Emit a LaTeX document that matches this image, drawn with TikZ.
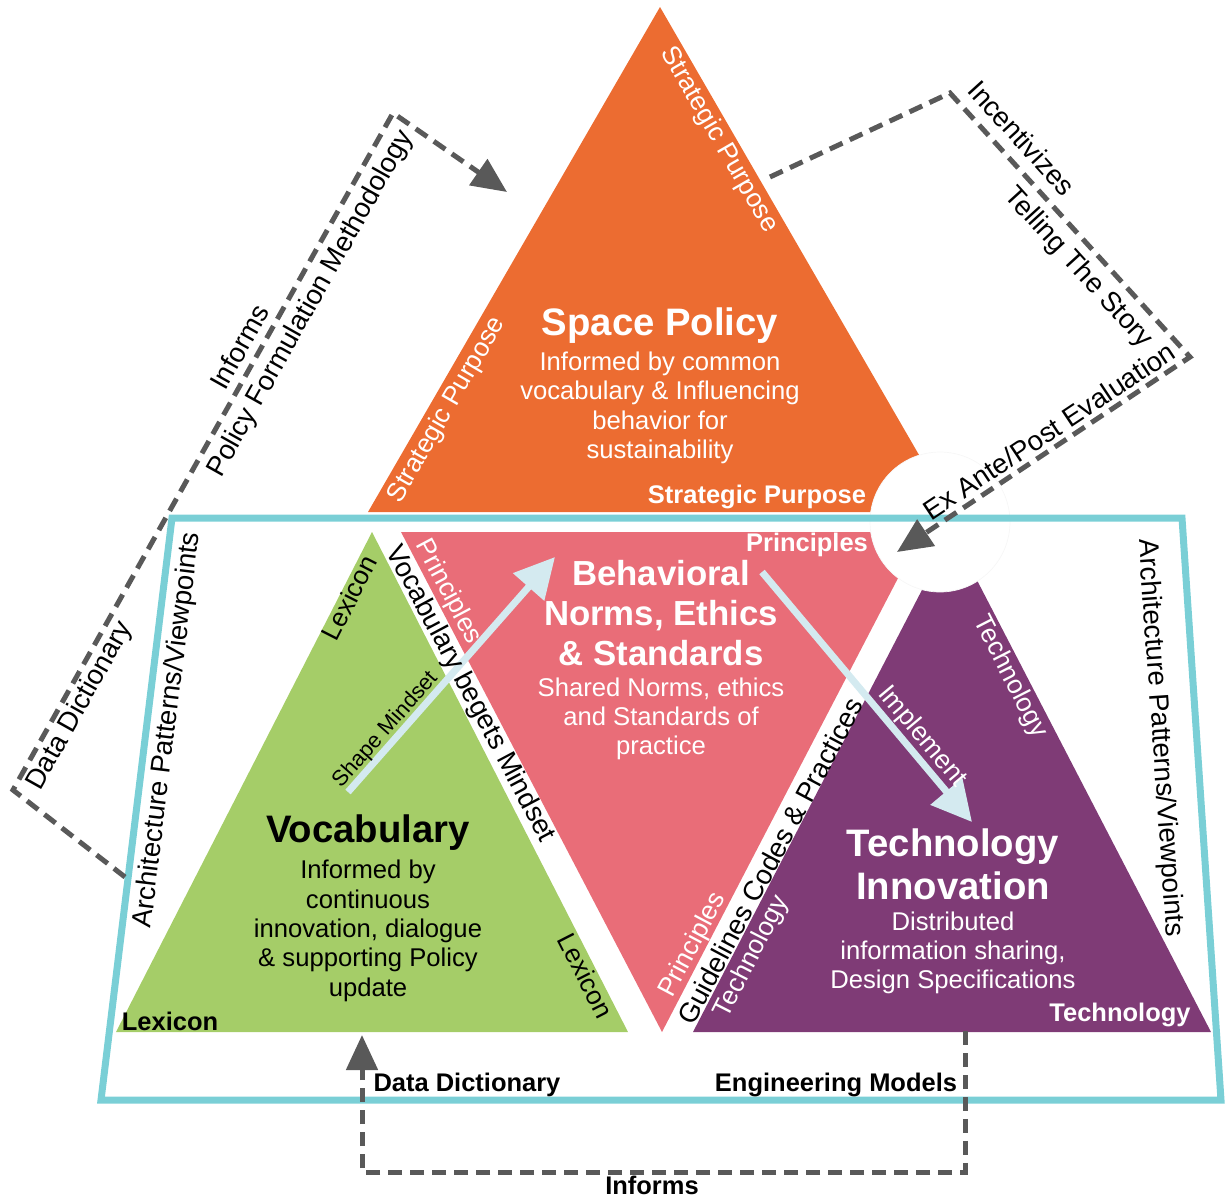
\documentclass[tikz,border=0pt]{standalone}
\usepackage{fontspec}
\setmainfont{Liberation Sans}
\usetikzlibrary{arrows.meta}
\usetikzlibrary{positioning}
\definecolor{policyorange}{HTML}{EC6C31}
\definecolor{lexgreen}{HTML}{A5CD68}
\definecolor{normpink}{HTML}{E96D78}
\definecolor{techpurple}{HTML}{7F3B76}
\definecolor{frameteal}{HTML}{7ACFD6}
\definecolor{dashgray}{HTML}{595959}
\definecolor{mindblue}{HTML}{D4EAF0}
\tikzset{
  edgetext/.style={white,font=\fontsize{15}{16.5}\selectfont,inner sep=0pt},
  cornertext/.style={white,font=\fontsize{14.5}{16}\selectfont\bfseries,inner sep=0pt},
  titletext/.style={white,font=\fontsize{21.8}{24.4}\selectfont\bfseries,align=center,inner sep=0pt},
  bodytext/.style={white,font=\fontsize{14.6}{16.7}\selectfont,align=center,inner sep=0pt},
  flowtext/.style={black,font=\fontsize{15.7}{18}\selectfont,inner sep=0pt},
  flowbold/.style={black,font=\fontsize{14.5}{16}\selectfont\bfseries,inner sep=0pt},
  dashflow/.style={dashgray,line width=0.1cm,dash pattern=on 0.28cm off 0.16cm,
    -{Triangle[length=0.7cm,width=0.62cm]}},
  mindarrow/.style={mindblue,line width=0.14cm,-{Triangle[length=0.8cm,width=0.8cm]}}
}
\begin{document}
\begin{tikzpicture}[x=0.02cm,y=-0.02cm,line join=miter]
\useasboundingbox (0,0) rectangle (1225,1197);
% corners of the four triangles
\coordinate (SPtop) at (660,7);
\coordinate (SPleft) at (368,512);
\coordinate (SPright) at (952,512);
\coordinate (VOtop) at (372,532);
\coordinate (VOleft) at (116,1032);
\coordinate (VOright) at (628,1032);
\coordinate (BNleft) at (401,532);
\coordinate (BNright) at (922,532);
\coordinate (BNbottom) at (662,1032);
\coordinate (TItop) at (952,532);
\coordinate (TIleft) at (693,1032);
\coordinate (TIright) at (1211,1032);
\coordinate (hub) at (940,522);

\fill[policyorange] (SPtop) -- (SPright) -- (SPleft) -- cycle;
\fill[lexgreen] (VOtop) -- (VOright) -- (VOleft) -- cycle;
\fill[normpink] (BNleft) -- (BNright) -- (BNbottom) -- cycle;
\fill[techpurple] (TItop) -- (TIright) -- (TIleft) -- cycle;
\filldraw[white,draw=black!3,line width=0.4pt] (hub) circle[radius=1.4cm];

% frame
\coordinate (FRtl) at (172,518);
\coordinate (FRtr) at (1182,518);
\coordinate (FRbr) at (1221,1100);
\coordinate (FRbl) at (101,1100);
\draw[frameteal,line width=0.14cm] (FRtl) -- (FRtr) -- (FRbr) -- (FRbl) -- cycle;

% dashed flows
\coordinate (ddstart) at (125,877);
\coordinate (ddcorner) at (13,790);
\coordinate (pfmcorner) at (393,113);
\coordinate (pfmtip) at (507,192);
\draw[dashflow] (ddstart) -- (ddcorner) -- (pfmcorner) -- (pfmtip);
\coordinate (incstart) at (770,177);
\coordinate (inccorner) at (950,93);
\coordinate (evalcorner) at (1190,357);
\coordinate (evaltip) at (897,552);
\draw[dashflow] (incstart) -- (inccorner) -- (evalcorner) -- (evaltip);
\coordinate (emstart) at (965,1031);
\coordinate (emcorner) at (965,1172);
\coordinate (ddcorner2) at (362,1172);
\coordinate (ddtip) at (362,1035);
\draw[dashflow] (emstart) -- (emcorner) -- (ddcorner2) -- (ddtip);

% mindset arrows
\coordinate (shapetail) at (348,792);
\coordinate (shapetip) at (555,557);
\coordinate (impltail) at (762,572);
\coordinate (impltip) at (972,822);
\draw[mindarrow] (shapetail) -- (shapetip);
\draw[mindarrow] (impltail) -- (impltip);

% Space Policy
\node[titletext] (SPtitle) at (660,326) {Space Policy};
\node[bodytext] (SPbody) at (660,408) {Informed by common\\vocabulary \& Influencing\\behavior for\\sustainability};
\node[edgetext,rotate=-60] (SPr) at (719,140) {Strategic Purpose};
\node[edgetext,rotate=60] (SPl) at (447,410) {Strategic Purpose};
\node[cornertext] (SPb) at (757,497) {Strategic Purpose};

% Vocabulary
\node[titletext,black] (VOtitle) at (368,833) {Vocabulary};
\node[bodytext,black] (VObody) at (368,931) {Informed by\\continuous\\innovation, dialogue\\\& supporting Policy\\update};
\node[edgetext,black,rotate=63] (VOl) at (349,598) {Lexicon};
\node[edgetext,black,rotate=-63] (VOr) at (586,976) {Lexicon};
\node[cornertext,black] (VOb) at (170,1021) {Lexicon};
\node[flowtext,rotate=-62] (VBM) at (470,694) {Vocabulary begets Mindset};

% Behavioral Norms
\node[titletext,font=\fontsize{19.8}{23}\selectfont\bfseries] (BNtitle) at (661,613) {Behavioral\\Norms, Ethics\\\& Standards};
\node[bodytext] (BNbody) at (661,719) {Shared Norms, ethics\\and Standards of\\practice};
\node[edgetext,rotate=-62] (BNl) at (448,592) {Principles};
\node[edgetext,rotate=62] (BNr) at (693,945) {Principles};
\node[cornertext] (BNt) at (807,545) {Principles};
\node[flowtext,rotate=62] (GCP) at (770,861) {Guidelines Codes \& Practices};

% Technology Innovation
\node[titletext] (TItitle) at (953,864) {Technology\\Innovation};
\node[bodytext] (TIbody) at (953,953) {Distributed\\information sharing,\\Design Specifications};
\node[edgetext,rotate=-63] (TIr) at (1010,677) {Technology};
\node[edgetext,rotate=63] (TIl) at (752,957) {Technology};
\node[cornertext] (TIb) at (1120,1015) {Technology};

\node[edgetext,black,font=\fontsize{12.5}{14}\selectfont,rotate=48.6] (shape) at (386,730) {Shape Mindset};
\node[edgetext,rotate=-50] (impl) at (922,737) {Implement};

% outside labels
\node[flowtext,rotate=83] (archl) at (168,730) {Architecture Patterns/Viewpoints};
\node[flowtext,rotate=-86] (archr) at (1160,738) {Architecture Patterns/Viewpoints};
\node[flowtext,rotate=60.7] (inf1) at (239,347) {Informs};
\node[flowtext,rotate=60.7] (pfm) at (311,304) {Policy Formulation Methodology};
\node[flowtext,rotate=60.7] (dd1) at (80,706) {Data Dictionary};
\node[flowtext,rotate=-47.7] (inc) at (1022,138) {Incentivizes};
\node[flowtext,rotate=-47.7] (tts) at (1078,268) {Telling The Story};
\node[flowtext,rotate=33.6] (eval) at (1049,431) {Ex Ante/Post Evaluation};
\node[flowbold] (dd2) at (467,1085) {Data Dictionary};
\node[flowbold] (em) at (836,1085) {Engineering Models};
\node[flowbold] (inf2) at (652,1185) {Informs};
\end{tikzpicture}
\end{document}
